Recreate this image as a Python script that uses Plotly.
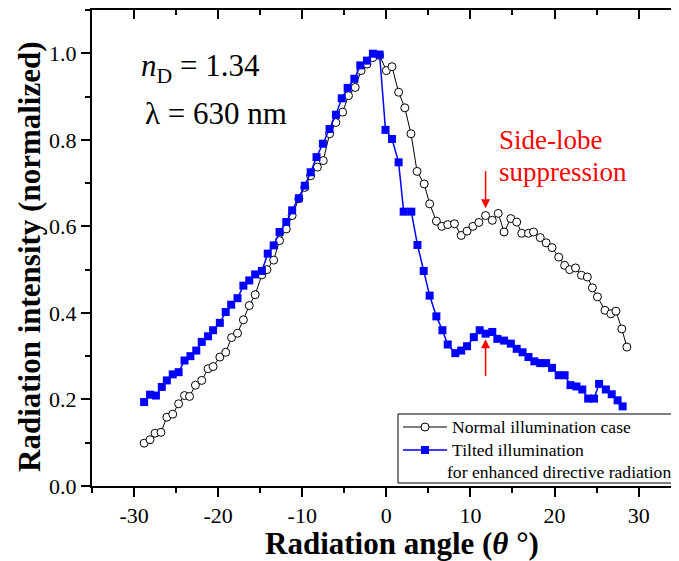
import plotly.graph_objects as go

# ---------------- data ----------------
normal_angle = [-28.8, -28.1, -27.5, -26.8, -26.1, -25.4, -24.7, -24.0, -23.4, -22.7,
                -21.95, -21.2, -20.6, -19.8, -19.1, -18.4, -17.7, -17.0, -16.3, -15.6,
                -14.8, -14.2, -13.4, -12.7, -11.9, -11.2, -10.4, -9.7, -9.0, -8.2,
                -7.5, -6.75, -6.0, -5.2, -4.5, -3.7, -3.0, -2.3, -1.6, -0.8,
                0.0, 0.67, 1.46, 2.2, 2.93, 3.65, 4.5, 5.15, 5.95, 6.6,
                7.3, 8.1, 8.9, 9.6, 10.3, 11.0, 11.8, 12.6, 13.3, 14.0,
                14.8, 15.5, 16.1, 16.9, 17.5, 18.3, 19.0, 19.7, 20.5, 21.2,
                21.8, 22.5, 23.2, 23.9, 24.5, 25.1, 26.0, 26.7, 27.3, 28.0, 28.6]
normal_value = [0.099, 0.107, 0.122, 0.124, 0.159, 0.166, 0.190, 0.209, 0.207, 0.233,
                0.244, 0.271, 0.276, 0.298, 0.309, 0.343, 0.353, 0.384, 0.417, 0.442,
                0.488, 0.500, 0.522, 0.567, 0.594, 0.625, 0.664, 0.690, 0.717, 0.737,
                0.752, 0.814, 0.840, 0.864, 0.902, 0.921, 0.960, 0.975, 0.990, 0.995,
                0.960, 0.969, 0.910, 0.874, 0.814, 0.727, 0.698, 0.652, 0.612, 0.600,
                0.604, 0.606, 0.579, 0.589, 0.600, 0.609, 0.625, 0.614, 0.630, 0.587,
                0.618, 0.610, 0.584, 0.584, 0.587, 0.574, 0.562, 0.551, 0.529, 0.510,
                0.500, 0.504, 0.487, 0.483, 0.458, 0.437, 0.406, 0.398, 0.404, 0.363, 0.321]

tilted_angle = [-28.8, -28.1, -27.4, -26.7, -26.1, -25.4, -24.7, -24.0, -23.3, -22.6,
                -21.95, -21.2, -20.6, -19.8, -19.1, -18.45, -17.7, -17.0, -16.3, -15.6,
                -14.8, -14.1, -13.4, -12.7, -11.9, -11.2, -10.4, -9.7, -9.0, -8.3,
                -7.55, -6.75, -6.0, -5.3, -4.6, -3.8, -3.1, -2.3, -1.6, -0.8,
                -0.1, 0.67, 1.46, 2.06, 2.97, 3.7, 4.44, 5.15, 5.95, 6.67,
                7.3, 8.2, 8.9, 9.6, 10.4, 11.1, 11.8, 12.6, 13.2, 14.0,
                14.8, 15.5, 16.2, 16.9, 17.6, 18.3, 19.0, 19.7, 20.5, 21.2,
                21.9, 22.6, 23.3, 24.0, 24.7, 25.3, 26.1, 26.8, 27.5, 28.1]
tilted_value = [0.194, 0.211, 0.209, 0.229, 0.244, 0.258, 0.263, 0.290, 0.300, 0.313,
                0.333, 0.346, 0.360, 0.377, 0.402, 0.419, 0.434, 0.463, 0.475, 0.489,
                0.497, 0.537, 0.556, 0.587, 0.610, 0.637, 0.665, 0.694, 0.725, 0.760,
                0.791, 0.825, 0.858, 0.896, 0.920, 0.941, 0.972, 0.983, 0.999, 0.997,
                0.823, 0.802, 0.748, 0.634, 0.634, 0.557, 0.497, 0.440, 0.392, 0.360,
                0.327, 0.307, 0.313, 0.323, 0.344, 0.360, 0.352, 0.356, 0.340, 0.336,
                0.329, 0.317, 0.309, 0.298, 0.288, 0.284, 0.284, 0.273, 0.256, 0.256,
                0.233, 0.230, 0.223, 0.202, 0.202, 0.236, 0.223, 0.212, 0.198, 0.184]

x_tick_vals = [-30, -20, -10, 0, 10, 20, 30]
x_tick_text = ["-30", "-20", "-10", "0", "10", "20", "30"]
y_tick_vals = [0.0, 0.2, 0.4, 0.6, 0.8, 1.0]
y_tick_text = ["0.0", "0.2", "0.4", "0.6", "0.8", "1.0"]

series_names = ["Normal illumination case", "Tilted illumination", "for enhanced directive radiation"]

FONT = "Liberation Serif"
BLUE = "#0000FF"

# plot area in page pixels (page has an 8px body margin)
PX0, PX1, PY0, PY1 = 92, 679, 10, 486


def px(X):
    return (X - PX0) / (PX1 - PX0)


def py(Y):
    return (PY1 - Y) / (PY1 - PY0)


fig = go.Figure()
fig.add_trace(go.Scatter(
    x=normal_angle, y=normal_value, mode="lines+markers",
    name=series_names[0], showlegend=False,
    line=dict(color="black", width=1),
    marker=dict(symbol="circle", size=8, color="white", line=dict(color="black", width=1)),
))
fig.add_trace(go.Scatter(
    x=tilted_angle, y=tilted_value, mode="lines+markers",
    name=series_names[1] + " " + series_names[2], showlegend=False,
    line=dict(color=BLUE, width=1.5),
    marker=dict(symbol="square", size=8, color=BLUE, line=dict(width=0)),
))
# helper trace for the top axis
fig.add_trace(go.Scatter(x=[None], y=[None], xaxis="x2", showlegend=False, hoverinfo="skip"))

axis_common = dict(
    showline=True, linecolor="black", linewidth=2,
    showgrid=False, zeroline=False,
    tickcolor="black", tickwidth=2, ticklen=9,
)

fig.update_layout(
    width=679, height=561,
    margin=dict(l=84, r=8, t=2, b=83, autoexpand=False),
    paper_bgcolor="white", plot_bgcolor="white",
    font=dict(family=FONT, color="black"),
    showlegend=False,
    xaxis=dict(
        range=[-35, 34.8], ticks="outside",
        tickvals=x_tick_vals, ticktext=x_tick_text,
        tickfont=dict(size=22, family=FONT),
        minor=dict(dtick=5, ticks="outside", ticklen=5, tickwidth=2, tickcolor="black"),
        **axis_common,
    ),
    xaxis2=dict(
        range=[-35, 34.8], overlaying="x", side="top", ticks="inside",
        tickvals=x_tick_vals, showticklabels=False,
        minor=dict(dtick=5, ticks="inside", ticklen=5, tickwidth=2, tickcolor="black"),
        **axis_common,
    ),
    yaxis=dict(
        range=[0, 1.1], ticks="outside",
        tickvals=y_tick_vals, ticktext=y_tick_text,
        tickfont=dict(size=22, family=FONT),
        minor=dict(dtick=0.1, ticks="outside", ticklen=5, tickwidth=2, tickcolor="black"),
        **axis_common,
    ),
)

# ---- legend box (drawn manually for tight line spacing) ----
shapes = [
    dict(type="rect", xref="paper", yref="paper", layer="above",
         x0=px(398), x1=px(677), y0=py(483), y1=py(414),
         fillcolor="white", line=dict(color="black", width=1)),
    dict(type="line", xref="paper", yref="paper", layer="above",
         x0=px(403), x1=px(447), y0=py(427), y1=py(427),
         line=dict(color="black", width=1)),
    dict(type="circle", xref="paper", yref="paper", layer="above",
         x0=px(421), x1=px(429), y0=py(431), y1=py(423),
         fillcolor="white", line=dict(color="black", width=1)),
    dict(type="line", xref="paper", yref="paper", layer="above",
         x0=px(403), x1=px(447), y0=py(450), y1=py(450),
         line=dict(color=BLUE, width=1.5)),
    dict(type="rect", xref="paper", yref="paper", layer="above",
         x0=px(421), x1=px(429), y0=py(454), y1=py(446),
         fillcolor=BLUE, line=dict(width=0)),
]

LEG = 17.6
annotations = [
    # axis titles
    dict(text="<b>Radiation angle (<i>θ</i> °)</b>", xref="paper", yref="paper",
         x=px(402), y=py(543), xanchor="center", yanchor="middle",
         showarrow=False, font=dict(size=31, family=FONT)),
    dict(text="<b>Radiation intensity (normalized)</b>", xref="paper", yref="paper",
         x=px(30), y=py(257), xanchor="center", yanchor="middle",
         textangle=-90, showarrow=False, font=dict(size=31, family=FONT)),
    # parameters
    dict(text="<i>n</i><sub>D</sub> = 1.34", xref="x", yref="y", x=-29.4, y=0.965,
         xanchor="left", yanchor="middle", showarrow=False, font=dict(size=31, family=FONT)),
    dict(text="λ = 630 nm", xref="x", yref="y", x=-28.9, y=0.86,
         xanchor="left", yanchor="middle", showarrow=False, font=dict(size=31, family=FONT)),
    # side-lobe labels
    dict(text="Side-lobe", xref="x", yref="y", x=13.1, y=0.8,
         xanchor="left", yanchor="middle", showarrow=False, font=dict(size=27, family=FONT, color="red")),
    dict(text="suppression", xref="x", yref="y", x=13.1, y=0.725,
         xanchor="left", yanchor="middle", showarrow=False, font=dict(size=27, family=FONT, color="red")),
    # arrows
    dict(text="", xref="x", yref="y", x=11.8, y=0.642, axref="x", ayref="y", ax=11.8, ay=0.731,
         showarrow=True, arrowhead=2, arrowsize=1.2, arrowwidth=1.5, arrowcolor="red"),
    dict(text="", xref="x", yref="y", x=11.8, y=0.339, axref="x", ayref="y", ax=11.8, ay=0.251,
         showarrow=True, arrowhead=2, arrowsize=1.2, arrowwidth=1.5, arrowcolor="red"),
    # legend texts
    dict(text=series_names[0], xref="paper", yref="paper", x=px(450), y=py(427),
         xanchor="left", yanchor="middle", showarrow=False, font=dict(size=LEG, family=FONT)),
    dict(text=series_names[1], xref="paper", yref="paper", x=px(450), y=py(450),
         xanchor="left", yanchor="middle", showarrow=False, font=dict(size=LEG, family=FONT)),
    dict(text=series_names[2], xref="paper", yref="paper", x=px(445), y=py(472),
         xanchor="left", yanchor="middle", showarrow=False, font=dict(size=LEG, family=FONT)),
]
fig.update_layout(shapes=shapes, annotations=annotations)

fig.write_html("out.html")
